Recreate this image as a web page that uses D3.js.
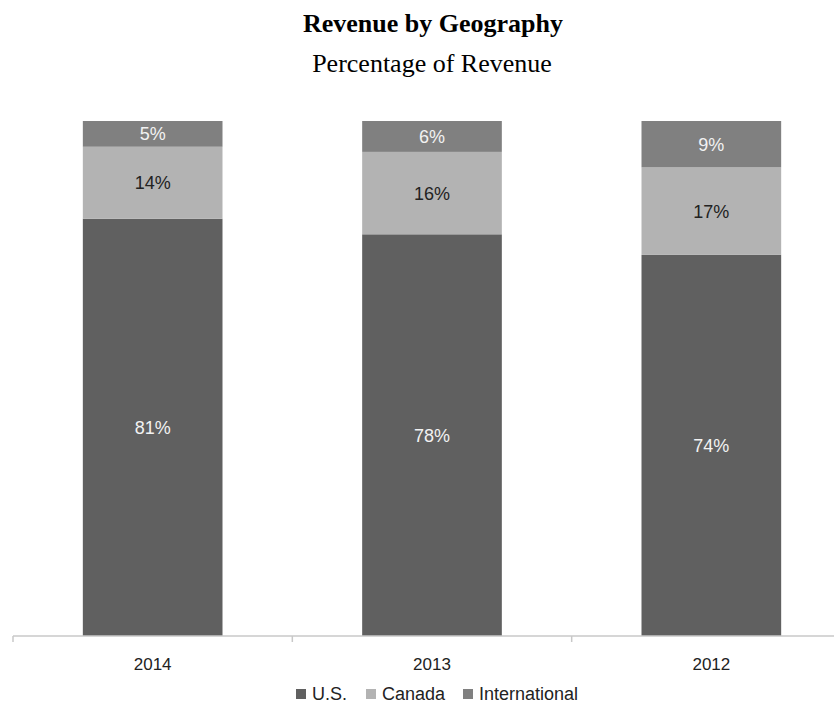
<!DOCTYPE html>
<html lang="en">
  <head>
    <meta charset="UTF-8" />
    <title>Revenue by Geography</title>
    <script src="https://d3js.org/d3.v7.min.js"></script>
    <style>
      body {
        margin: 0;
        background: #fff;
      }
      .title {
        font-family: "Liberation Serif", "Times New Roman", serif;
      }
      .lbl,
      .tick text,
      .legend text {
        font-family: "Liberation Sans", Arial, sans-serif;
      }
    </style>
  </head>
  <body>
    <div id="chart"></div>
    <script>
      const years = ["2014", "2013", "2012"]
      const regions = ["U.S.", "Canada", "International"]
      const usShare = [81, 78, 74]
      const canadaShare = [14, 16, 17]
      const intlShare = [5, 6, 9]

      const colors = { "U.S.": "#606060", Canada: "#b3b3b3", International: "#808080" }
      const labelColors = { "U.S.": "#f2f2f2", Canada: "#222", International: "#f2f2f2" }

      const rows = years.map((y, i) => ({
        year: y,
        "U.S.": usShare[i],
        Canada: canadaShare[i],
        International: intlShare[i]
      }))

      const W = 834,
        H = 705
      const baseY = 636,
        topY = 121

      const svg = d3.select("#chart").append("svg").attr("width", W).attr("height", H)

      svg
        .append("text")
        .attr("class", "title")
        .attr("x", 433)
        .attr("y", 32)
        .attr("text-anchor", "middle")
        .attr("font-size", 26)
        .attr("font-weight", "bold")
        .text("Revenue by Geography")

      svg
        .append("text")
        .attr("class", "title")
        .attr("x", 432)
        .attr("y", 72)
        .attr("text-anchor", "middle")
        .attr("font-size", 26)
        .text("Percentage of Revenue")

      const x = d3.scaleBand().domain(years).range([13, 851]).paddingInner(0.5).paddingOuter(0.25)
      const y = d3.scaleLinear().domain([0, 100]).range([baseY, topY])

      const series = d3.stack().keys(regions)(rows)

      const groups = svg
        .selectAll(".series")
        .data(series)
        .join("g")
        .attr("class", "series")
        .attr("fill", d => colors[d.key])

      groups
        .selectAll("rect")
        .data(d => d)
        .join("rect")
        .attr("x", d => x(d.data.year))
        .attr("width", x.bandwidth())
        .attr("y", d => y(d[1]))
        .attr("height", d => y(d[0]) - y(d[1]))

      groups
        .selectAll("text")
        .data(d => d.map(v => ({ key: d.key, v })))
        .join("text")
        .attr("class", "lbl")
        .attr("x", d => x(d.v.data.year) + x.bandwidth() / 2)
        .attr("y", d => (y(d.v[0]) + y(d.v[1])) / 2)
        .attr("dy", "0.36em")
        .attr("text-anchor", "middle")
        .attr("font-size", 18)
        .attr("fill", d => labelColors[d.key])
        .text(d => d.v.data[d.key] + "%")

      // axis with ticks between categories
      const axis = svg.append("g").attr("transform", `translate(0,${baseY})`)
      axis
        .append("line")
        .attr("x1", 13)
        .attr("x2", W)
        .attr("stroke", "#c8c8c8")
        .attr("stroke-width", 1.5)
      const step = x.step()
      const bounds = years.map(yr => x(yr) - (step - x.bandwidth()) / 2)
      axis
        .selectAll(".tk")
        .data(bounds)
        .join("line")
        .attr("x1", d => d)
        .attr("x2", d => d)
        .attr("y1", 0)
        .attr("y2", 6)
        .attr("stroke", "#c8c8c8")
        .attr("stroke-width", 1.5)

      const xAxis = svg
        .append("g")
        .attr("transform", `translate(0,${baseY})`)
        .call(d3.axisBottom(x).tickSize(0).tickPadding(22))
      xAxis.select(".domain").remove()
      xAxis.selectAll("text").attr("font-size", 17).attr("fill", "#222")

      // legend
      const legendX = [296, 366, 463]
      const legend = svg
        .append("g")
        .attr("class", "legend")
        .selectAll("g")
        .data(regions)
        .join("g")
        .attr("transform", (d, i) => `translate(${legendX[i]},694)`)
      legend
        .append("rect")
        .attr("x", 0)
        .attr("y", -5)
        .attr("width", 10)
        .attr("height", 10)
        .attr("fill", d => colors[d])
      legend
        .append("text")
        .attr("x", 16)
        .attr("y", 0)
        .attr("dy", "0.35em")
        .attr("font-size", 18)
        .attr("fill", "#222")
        .text(d => d)
    </script>
  </body>
</html>
